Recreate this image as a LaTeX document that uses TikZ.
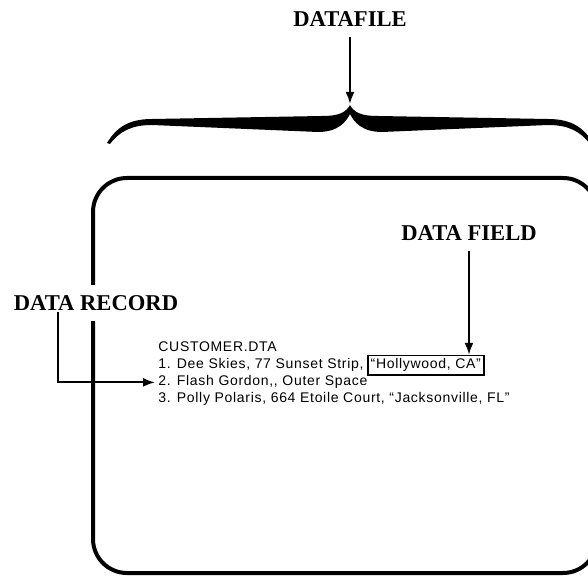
\documentclass[tikz,border=0pt]{standalone}
\usepackage{fontspec}
\setmainfont{Liberation Serif}
\newfontfamily\bodyfont[LetterSpace=5]{Liberation Sans}
\usetikzlibrary{arrows.meta,calc}
\tikzset{
  lab/.style={font=\bfseries\fontsize{11.3}{13}\selectfont, inner sep=0pt},
  body/.style={font=\bodyfont\fontsize{7}{8.5}\selectfont, inner sep=0pt, anchor=base west},
  fieldbox/.style={body, draw, line width=0.8pt, inner xsep=1.5pt, inner ysep=1.6pt},
  arr/.style={line width=1pt, -{Latex[length=6pt,width=4.5pt]}},
  frame/.style={line width=2pt, rounded corners=17pt}
}
\begin{document}
\begin{tikzpicture}[x=0.5pt,y=-0.5pt]
\useasboundingbox (0,0) rectangle (588,576);
\clip (0,0) rectangle (588,576);
% brace
\fill (350,105) .. controls (346,112) and (340,116) .. (322,116) -- (152,119)
  .. controls (128,119) and (116,128) .. (107,143) -- (110,144)
  .. controls (120,131) and (132,125) .. (152,125) -- (318,132)
  .. controls (338,132) and (346,122) .. (350,114)
  .. controls (354,122) and (362,132) .. (382,132) -- (548,125)
  .. controls (568,125) and (580,131) .. (590,144) -- (593,143)
  .. controls (584,128) and (572,119) .. (548,119) -- (378,116)
  .. controls (360,116) and (354,112) .. (350,105) -- cycle;
\coordinate (cusp) at (350,104);
% frame
\draw[frame] (93,178) rectangle (597,573);
% labels
\node[lab] (dfl) at (350,19) {DATAFILE};
\node[lab, fill=white, inner ysep=5pt, inner xsep=1pt] (drec) at (96,303) {DATA RECORD};
\node[lab] (dfld) at (469,233) {DATA FIELD};
% text lines
\node[body] (l0) at (158,352) {CUSTOMER.DTA};
\node[body] (l1) at (158,369) {1. Dee Skies, 77 Sunset Strip,};
\node[fieldbox, anchor=base west] (fld) at ($(l1.base east)+(3,0)$) {“Hollywood, CA”};
\node[body] (l2) at (158,386) {2. Flash Gordon,, Outer Space};
\node[body] (l3) at (158,403) {3. Polly Polaris, 664 Etoile Court, “Jacksonville, FL”};
% connectors
\draw[arr, shorten <=5pt] (dfl.south) -- (cusp);
\draw[arr, shorten <=5pt] (dfld.south) -- (dfld.south |- fld.north);
\coordinate (recstart) at (58,312);
\draw[arr, shorten >=1.5pt] (recstart) |- (l2.west);
\end{tikzpicture}
\end{document}
